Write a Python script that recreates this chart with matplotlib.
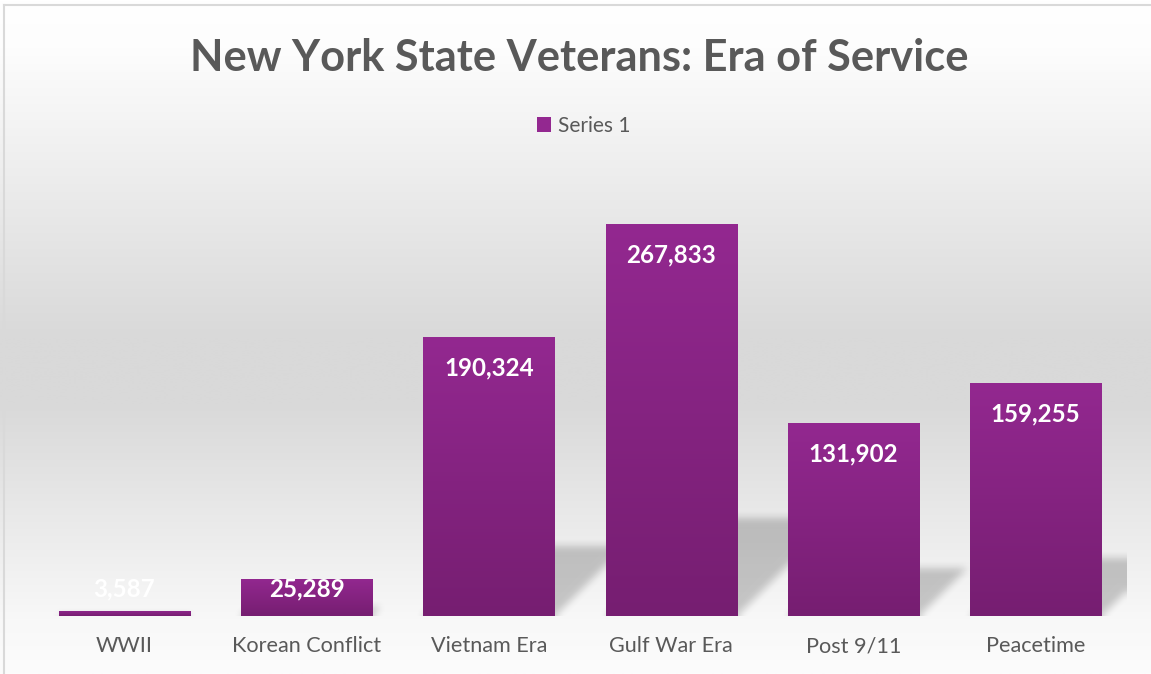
import numpy as np
import matplotlib
matplotlib.use("Agg")
import matplotlib.pyplot as plt
from matplotlib.patches import Patch
from matplotlib.lines import Line2D

categories = ["WWII", "Korean Conflict", "Vietnam Era", "Gulf War Era", "Post 9/11", "Peacetime"]
values = [3587, 25289, 190324, 267833, 131902, 159255]
series_name = "Series 1"
title = "New York State Veterans: Era of Service"

TEXT = "#595959"
TOP_C = np.array([0x93, 0x28, 0x90]) / 255
BOT_C = np.array([0x76, 0x1e, 0x71]) / 255

plt.rcParams['font.family'] = ['Lato', 'DejaVu Sans']

W_PX, H_PX = 1151, 674
fig = plt.figure(figsize=(W_PX / 100, H_PX / 100), dpi=100)

# background gradient
bg = fig.add_axes([0, 0, 1, 1], zorder=-10)
yy = np.linspace(0, 1, 400)
gv = np.interp(yy, [0, 0.07, 0.5, 0.6, 0.92, 1.0], [255, 253, 217, 217, 248, 252]) / 255
grad = np.repeat(gv[:, None], 2, axis=1)
bg.imshow(np.dstack([grad, grad, grad]), aspect='auto', extent=[0, 1, 0, 1], origin='upper',
          interpolation='bilinear')
bg.set_xlim(0, 1); bg.set_ylim(0, 1)
bg.axis('off')

# border (top & left)
fig.add_artist(Line2D([4 / W_PX, 4 / W_PX], [0, 1 - 5 / H_PX], transform=fig.transFigure, color="#d9d9d9", lw=1.5))
fig.add_artist(Line2D([4 / W_PX, 1], [1 - 5 / H_PX, 1 - 5 / H_PX], transform=fig.transFigure, color="#d9d9d9", lw=1.5))

ax_left, ax_right = 33.4 / W_PX, 1126.6 / W_PX
ax_bottom = (H_PX - 616) / H_PX
ax_height = 439 / H_PX
ax = fig.add_axes([ax_left, ax_bottom, ax_right - ax_left, ax_height])
ax.set_facecolor('none')
x = np.arange(len(categories))
bars = ax.bar(x, values, width=0.72, color=TOP_C, zorder=3)
ax.set_xlim(-0.5, len(categories) - 0.5)
ax.set_ylim(0, 300000)
for s in ax.spines.values():
    s.set_visible(False)
ax.set_yticks([])
ax.set_xticks(x, categories)
ax.tick_params(axis='x', length=0, pad=26, labelsize=15.6, labelcolor=TEXT)
for lbl in ax.get_xticklabels():
    lbl.set_va('baseline')

fig.canvas.draw()

# gradient fill on bars (lighter at top, darker at bottom)
gimg = np.linspace(0, 1, 256)[:, None]
gcol = TOP_C[None, None, :] * (1 - gimg[..., None]) + BOT_C[None, None, :] * gimg[..., None]
for b in bars:
    im = ax.imshow(gcol, extent=(b.get_x(), b.get_x() + b.get_width(), 0, b.get_height()),
                   aspect='auto', zorder=4, interpolation='bilinear', origin='upper')
    im.set_clip_path(b)
ax.set_xlim(-0.5, len(categories) - 0.5)
ax.set_ylim(0, 300000)

# soft perspective shadows
bbox = ax.get_window_extent()
Wn, Hn = int(round(bbox.width)), int(round(bbox.height))
xs = bbox.x0 + np.arange(Wn) + 0.5
ys = bbox.y0 + np.arange(Hn) + 0.5
X, Y = np.meshgrid(xs, ys)
mask = np.zeros((Hn, Wn))
shear = 1.0
for b in bars:
    (x0, y0), (x1, y1) = ax.transData.transform([(b.get_x(), 0), (b.get_x() + b.get_width(), b.get_height())])
    sh = 0.25 * (y1 - y0)
    Yr = Y - y0
    m = (Yr >= 0) & (Yr <= sh) & (X >= x0 + shear * Yr) & (X <= x1 + shear * Yr)
    mask = np.maximum(mask, m.astype(float))

def box_blur(a, r):
    k = np.ones(2 * r + 1) / (2 * r + 1)
    a = np.apply_along_axis(lambda v: np.convolve(np.pad(v, r, mode='edge'), k, mode='valid'), 0, a)
    a = np.apply_along_axis(lambda v: np.convolve(np.pad(v, r, mode='edge'), k, mode='valid'), 1, a)
    return a

mask = box_blur(box_blur(mask, 4), 4)
shadow = np.zeros((Hn, Wn, 4))
shadow[..., 3] = mask * 0.2
ax.imshow(shadow, extent=(-0.5, len(categories) - 0.5, 0, 300000), origin='lower',
          aspect='auto', zorder=2, interpolation='bilinear')
ax.set_xlim(-0.5, len(categories) - 0.5)
ax.set_ylim(0, 300000)

# data labels
ppu = bbox.height / 300000.0
for xi, v in zip(x, values):
    yl = max(v - 38 / ppu, 19.5 / ppu)
    ax.text(xi, yl, f"{v:,}", ha='center', va='baseline', color='white',
            fontsize=17.4, fontweight='bold', zorder=6)

# title
fig.text(0.503, 1 - 71 / H_PX, title, ha='center', va='baseline', color=TEXT,
         fontsize=31.2, fontweight='bold')

# legend
fig.legend(handles=[Patch(facecolor=TOP_C, edgecolor='none')], labels=[series_name],
           loc='center', bbox_to_anchor=(584 / W_PX, 1 - 126 / H_PX), frameon=False,
           fontsize=15, handlelength=0.65, handleheight=0.7, handletextpad=0.35,
           labelcolor=TEXT)

fig.savefig("out.png", dpi=100)
